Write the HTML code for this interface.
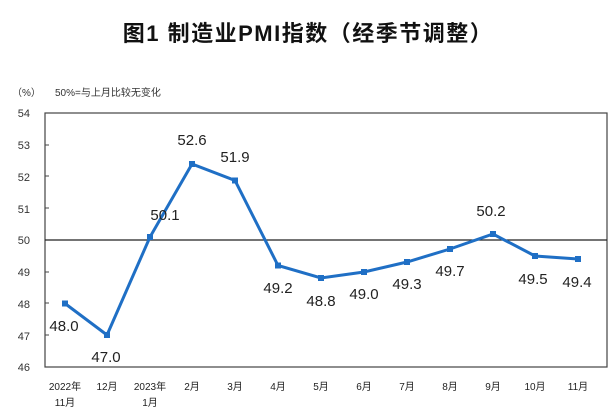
<!DOCTYPE html>
<html><head><meta charset="utf-8"><style>
body{margin:0;background:#fff;}
svg{display:block;}
</style></head><body>
<svg width="616" height="414" xmlns="http://www.w3.org/2000/svg" font-family="Liberation Sans, Noto Sans CJK SC, sans-serif">
<text x="308" y="41" text-anchor="middle" font-size="22" font-weight="bold" letter-spacing="1.5" fill="#111" font-family="Liberation Sans, Noto Sans CJK SC, sans-serif">图1  制造业PMI指数（经季节调整）</text>
<text x="12" y="96" font-size="10" fill="#333">（%）</text>
<text x="55" y="96" font-size="10" fill="#333">50%=与上月比较无变化</text>
<rect x="45" y="113" width="562" height="254" fill="none" stroke="#444" stroke-width="1.2"/>
<line x1="45" y1="240" x2="607" y2="240" stroke="#222" stroke-width="1.2"/>
<g font-size="11" fill="#333" text-anchor="end">
<text x="30" y="117">54</text><text x="30" y="149">53</text><text x="30" y="181">52</text><text x="30" y="213">51</text><text x="30" y="244">50</text><text x="30" y="276">49</text><text x="30" y="308">48</text><text x="30" y="340">47</text><text x="30" y="371">46</text>
</g>
<g stroke="#444"><line x1="45" y1="145" x2="49" y2="145"/><line x1="45" y1="176" x2="49" y2="176"/><line x1="45" y1="208" x2="49" y2="208"/><line x1="45" y1="272" x2="49" y2="272"/><line x1="45" y1="303" x2="49" y2="303"/><line x1="45" y1="335" x2="49" y2="335"/></g>
<polyline fill="none" stroke="#1f6fc5" stroke-width="3" points="65,303.5 107,335 150,237 192,164 235,180.5 278,265.5 321,278 364,272 407,262 450,249 493,234 535,256 578,259"/>
<g fill="#1f6fc5">
<rect x="62" y="300.5" width="6" height="6"/><rect x="104" y="332" width="6" height="6"/><rect x="147" y="234" width="6" height="6"/><rect x="189" y="161" width="6" height="6"/><rect x="232" y="177.5" width="6" height="6"/><rect x="275" y="262.5" width="6" height="6"/><rect x="318" y="275" width="6" height="6"/><rect x="361" y="269" width="6" height="6"/><rect x="404" y="259" width="6" height="6"/><rect x="447" y="246" width="6" height="6"/><rect x="490" y="231" width="6" height="6"/><rect x="532" y="253" width="6" height="6"/><rect x="575" y="256" width="6" height="6"/>
</g>
<g font-size="15" fill="#222" text-anchor="middle">
<text x="64" y="331">48.0</text><text x="106" y="362">47.0</text><text x="165" y="220">50.1</text><text x="192" y="145">52.6</text><text x="235" y="162">51.9</text><text x="278" y="293">49.2</text><text x="321" y="306">48.8</text><text x="364" y="299">49.0</text><text x="407" y="289">49.3</text><text x="450" y="276">49.7</text><text x="491" y="216">50.2</text><text x="533" y="284">49.5</text><text x="577" y="287">49.4</text>
</g>
<g font-size="10" fill="#222" text-anchor="middle">
<text x="65" y="390">2022年</text><text x="65" y="406">11月</text>
<text x="107" y="390">12月</text>
<text x="150" y="390">2023年</text><text x="150" y="406">1月</text>
<text x="192" y="390">2月</text><text x="235" y="390">3月</text><text x="278" y="390">4月</text><text x="321" y="390">5月</text><text x="364" y="390">6月</text><text x="407" y="390">7月</text><text x="450" y="390">8月</text><text x="493" y="390">9月</text><text x="535" y="390">10月</text><text x="578" y="390">11月</text>
</g>
</svg>
</body></html>
